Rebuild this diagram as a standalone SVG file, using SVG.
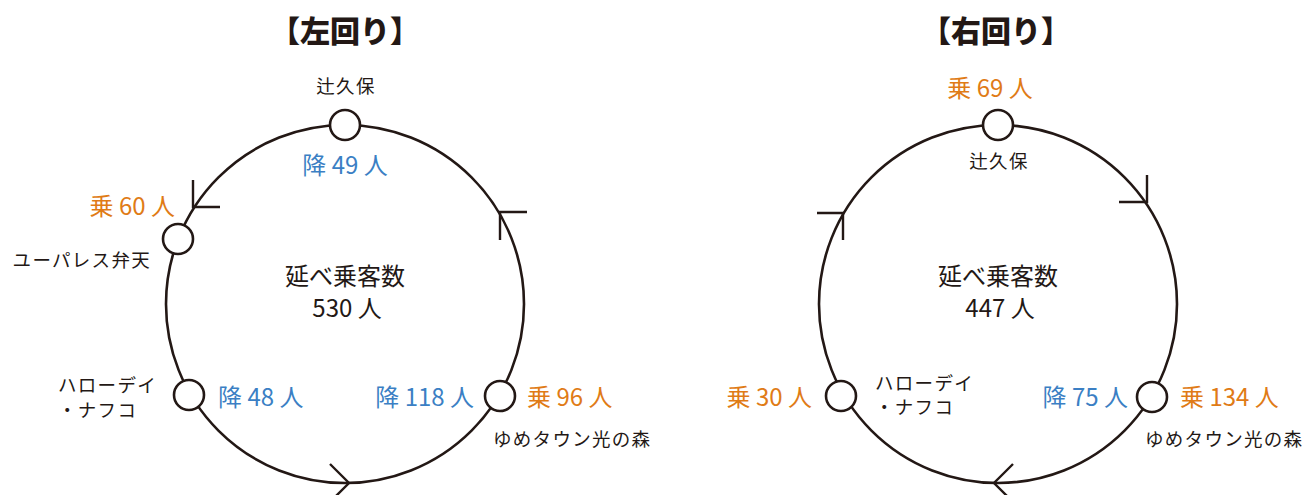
<svg xmlns="http://www.w3.org/2000/svg" width="1309" height="495" viewBox="0 0 1309 495">
<style>
  .ring{fill:none;stroke:#231815;stroke-width:2.6}
  .arr{fill:none;stroke:#231815;stroke-width:2.4;stroke-linecap:butt;stroke-linejoin:miter}
  .st{fill:#ffffff;stroke:#231815;stroke-width:2.6}
  text{font-family:"Noto Sans CJK JP","Noto Sans",sans-serif}
  .title{font-size:30px;font-weight:900;fill:#231815;text-anchor:middle}
  .name{font-size:18.5px;fill:#231815;letter-spacing:1.3px}
  .center{font-size:24px;fill:#231815;text-anchor:middle}
  .off{font-size:24px;fill:#3b7fc4}
  .on{font-size:24px;fill:#e07b16}
</style>

<text class="title" x="345" y="42">【左回り】</text>
<text class="title" x="996" y="42">【右回り】</text>

<g id="connectors">
  <circle class="ring" cx="345" cy="304" r="179"/>
  <path class="arr" d="M193,180 V207 H220"/>
  <path class="arr" d="M500,240 V212 H527"/>
  <path class="arr" d="M330,464 L349,483 L330,502"/>
  <circle class="ring" cx="998" cy="304" r="179"/>
  <path class="arr" d="M1147,175 V202 H1119"/>
  <path class="arr" d="M817,213 H843 V240"/>
  <path class="arr" d="M1013,464 L994,483 L1013,502"/>
</g>

<g id="left-center">
  <text class="center" x="345" y="285">延べ乗客数</text>
  <text class="center" x="347" y="317">530 人</text>
</g>

<g id="L-tsujikubo">
  <circle class="st" cx="345" cy="125" r="15"/>
  <text class="name" x="346" y="93" text-anchor="middle">辻久保</text>
  <text class="off" x="345" y="174" text-anchor="middle">降 49 人</text>
</g>
<g id="L-upalace">
  <circle class="st" cx="178" cy="239" r="15"/>
  <text class="on" x="175" y="215" text-anchor="end">乗 60 人</text>
  <text class="name" x="151" y="267" text-anchor="end">ユーパレス弁天</text>
</g>
<g id="L-harodei">
  <circle class="st" cx="189" cy="395" r="15"/>
  <text class="name" x="58" y="392">ハローデイ</text>
  <text class="name" x="58" y="417">・ナフコ</text>
  <text class="off" x="218" y="406">降 48 人</text>
</g>
<g id="L-youme">
  <circle class="st" cx="500" cy="396" r="15"/>
  <text class="off" x="474" y="406" text-anchor="end">降 118 人</text>
  <text class="on" x="527" y="406">乗 96 人</text>
  <text class="name" x="493" y="446">ゆめタウン光の森</text>
</g>

<g id="right-center">
  <text class="center" x="998" y="285">延べ乗客数</text>
  <text class="center" x="1000" y="317">447 人</text>
</g>

<g id="R-tsujikubo">
  <circle class="st" cx="998" cy="125" r="15"/>
  <text class="on" x="990" y="97" text-anchor="middle">乗 69 人</text>
  <text class="name" x="999" y="168" text-anchor="middle">辻久保</text>
</g>
<g id="R-harodei">
  <circle class="st" cx="841" cy="396" r="15"/>
  <text class="on" x="812" y="406" text-anchor="end">乗 30 人</text>
  <text class="name" x="875" y="390">ハローデイ</text>
  <text class="name" x="875" y="414">・ナフコ</text>
</g>
<g id="R-youme">
  <circle class="st" cx="1152" cy="397" r="15"/>
  <text class="off" x="1128" y="406" text-anchor="end">降 75 人</text>
  <text class="on" x="1180" y="406">乗 134 人</text>
  <text class="name" x="1145" y="446">ゆめタウン光の森</text>
</g>
</svg>
